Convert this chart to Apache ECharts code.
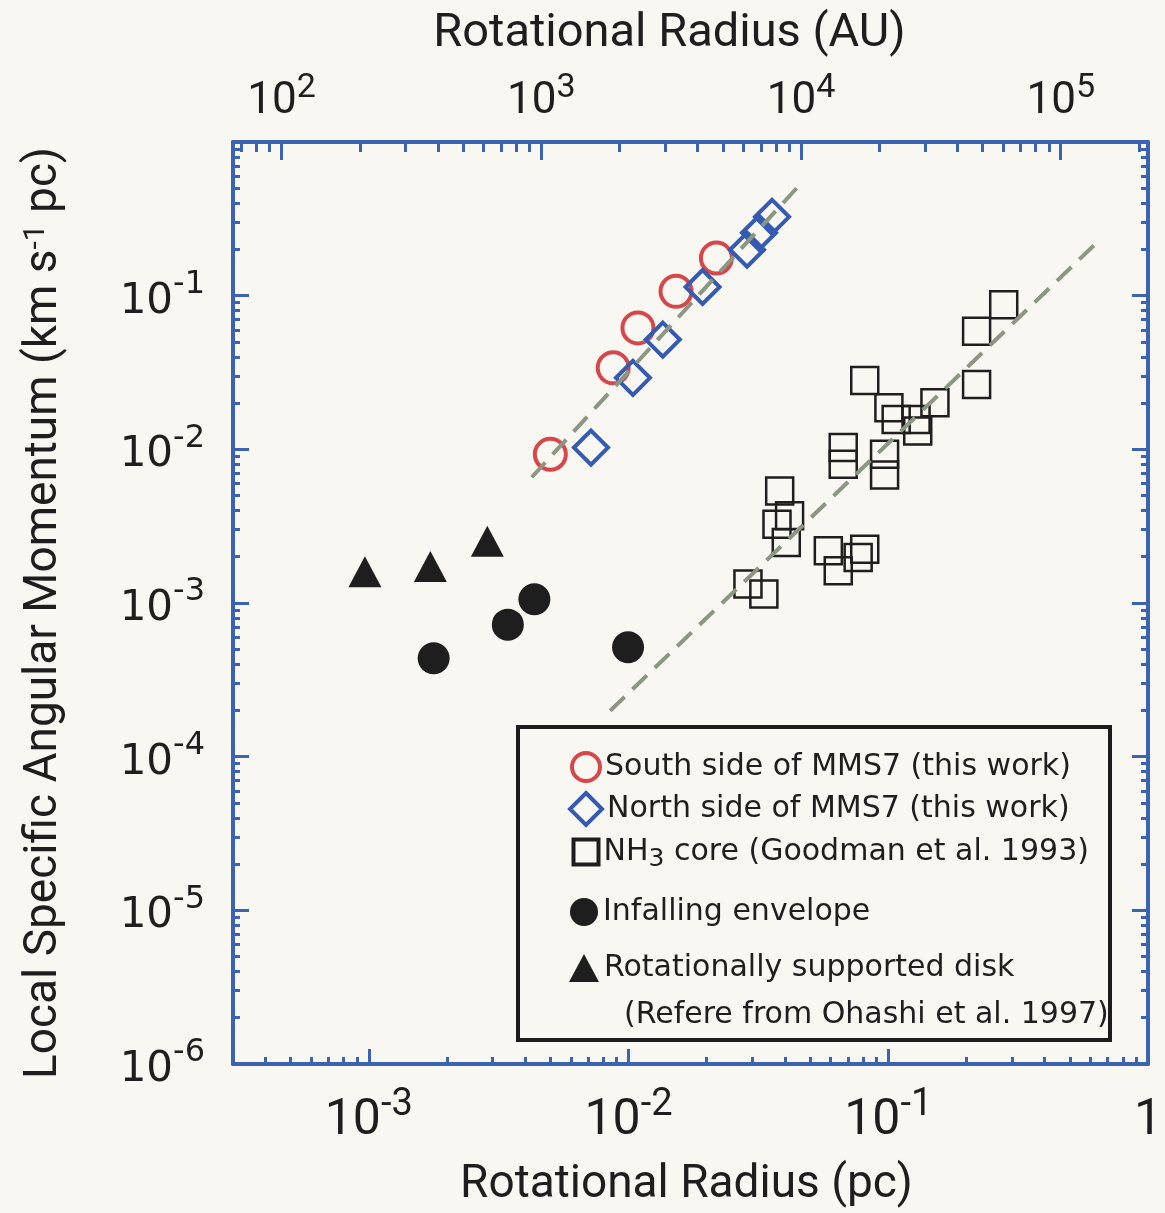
<!DOCTYPE html>
<html><head><meta charset="utf-8">
<script src="https://cdn.jsdelivr.net/npm/echarts@6/dist/echarts.min.js"></script>
<style>html,body{margin:0;padding:0;background:#f8f7f1}#c{width:1165px;height:1213px}</style>
</head><body><div id="c"></div>
<script>
// ---- data: rotational radius (pc) and local specific angular momentum (km s^-1 pc)
const southR = [0.0050, 0.00873, 0.01087, 0.01524, 0.0218];
const southJ = [0.00928, 0.0339, 0.0617, 0.1067, 0.1758];
const northR = [0.00717, 0.0104, 0.01355, 0.01928, 0.0286, 0.0318, 0.0357];
const northJ = [0.01026, 0.0292, 0.0518, 0.1139, 0.199, 0.2566, 0.326];
const nh3R = [0.2784, 0.2189, 0.2189, 0.0812, 0.1006, 0.1073, 0.128, 0.1299, 0.1513, 0.0671, 0.0671, 0.0968, 0.0968, 0.0382, 0.0417, 0.0373, 0.0405, 0.0588, 0.0642, 0.0812, 0.0766, 0.02883, 0.0332];
const nh3J = [0.0874, 0.0586, 0.02643, 0.02805, 0.01866, 0.01566, 0.01566, 0.01315, 0.0201, 0.01026, 0.0080, 0.00928, 0.00681, 0.00536, 0.00369, 0.00326, 0.00248, 0.00219, 0.00162, 0.00224, 0.00198, 0.00133, 0.001144];
const envR = [0.001777, 0.00343, 0.00434, 0.00996];
const envJ = [0.000437, 0.000723, 0.001057, 0.000515];
const diskR = [0.000966, 0.001726, 0.00286];
const diskJ = [0.0016, 0.001726, 0.00252];
const fit1R = [0.00424, 0.0445];
const fit1J = [0.00658, 0.503];
const fit2R = [0.0085, 0.652];
const fit2J = [0.000199, 0.231];

// ---- axes
const xMin = 3e-4, xMax = 1;
const yMin = 1e-6, yMax = 1;
const auMin = 65, auMax = 65 / 3e-4;
const pcTicks = [1e-3, 1e-2, 1e-1];
const pcLabels = [1e-3, 1e-2, 1e-1, 1];
const auTicks = [1e2, 1e3, 1e4, 1e5];
const auLabels = [1e2, 1e3, 1e4, 1e5];
const jTicks = [1e-5, 1e-4, 1e-3, 1e-2, 1e-1];
const jLabels = [1e-6, 1e-5, 1e-4, 1e-3, 1e-2, 1e-1];

const names = {
  south: 'South side of MMS7 (this work)',
  north: 'North side of MMS7 (this work)',
  nh3: 'NH3 core (Goodman et al. 1993)',
  env: 'Infalling envelope',
  disk: 'Rotationally supported disk'
};

const L = Math.log10;
const BG = '#f8f7f1', BLUE = '#3b62b3', RED = '#d6464b', DBLUE = '#345ab4', INK = '#1e1e1e', GREY = '#8b9683';
const NARROW = '"Liberation Sans Narrow","Roboto",sans-serif';
const DEJA = '"DejaVu Sans",sans-serif';

function minorList(lo, hi) {
  const out = [];
  for (let d = Math.floor(lo) - 1; d <= Math.ceil(hi); d++)
    for (let k = 2; k <= 9; k++) { const v = L(k) + d; if (v > lo + 1e-6 && v < hi - 1e-6) out.push(v); }
  return out;
}
function supFmt(v) {
  const n = Math.round(v);
  if (n === 0) return '{b|1}';
  return '{b|10}{s|' + n + '}';
}
function rich(font, b, s, raise) {
  return {
    b: { fontFamily: font, fontSize: b, lineHeight: b + raise, padding: [raise, 0, 0, 0], verticalAlign: 'bottom', color: INK },
    s: { fontFamily: font, fontSize: s, lineHeight: s, verticalAlign: 'top', color: INK }
  };
}
function pts(r, j) { return r.map((v, i) => [L(v), L(j[i])]); }

const tickStyle = { color: BLUE, width: 3 };
function mainAxis(pos, min, max, ticks, labels, len, labelCfg, extra) {
  return Object.assign({
    type: 'value', position: pos, min: L(min), max: L(max),
    axisLine: { show: true, onZero: false, lineStyle: { color: BLUE, width: 4 } },
    splitLine: { show: false },
    axisTick: { show: true, inside: true, length: len, lineStyle: tickStyle, customValues: ticks.map(L) },
    axisLabel: labels ? Object.assign({ customValues: labels.map(L), formatter: supFmt }, labelCfg) : { show: false }
  }, extra || {});
}
function minorAxis(pos, min, max, len) {
  return {
    type: 'value', position: pos, min: L(min), max: L(max),
    axisLine: { show: false, onZero: false },
    splitLine: { show: false },
    axisTick: { show: true, inside: true, length: len, lineStyle: tickStyle, customValues: minorList(L(min), L(max)) },
    axisLabel: { show: false }
  };
}

const chart = echarts.init(document.getElementById('c'), null, { renderer: 'canvas' });

const legendDefs = [
  { name: names.south, icon: 'circle', w: 28, h: 28, yc: 766, style: { color: 'rgba(0,0,0,0)', borderColor: RED, borderWidth: 4, opacity: 1 } },
  { name: names.north, icon: 'diamond', w: 32, h: 32, yc: 806, style: { color: 'rgba(0,0,0,0)', borderColor: DBLUE, borderWidth: 4, opacity: 1 } },
  { name: names.nh3, icon: 'rect', w: 25, h: 25, yc: 852, style: { color: 'rgba(0,0,0,0)', borderColor: INK, borderWidth: 4, opacity: 1 } },
  { name: names.env, icon: 'circle', w: 28, h: 28, yc: 912, style: { color: INK, opacity: 1 } },
  { name: names.disk, icon: 'triangle', w: 30, h: 28, yc: 968, style: { color: INK, opacity: 1 } }
];

const legends = legendDefs.map(d => {
  const isNH3 = d.name === names.nh3;
  return {
    left: 584 - d.w / 2 - 5, top: d.yc - (isNH3 ? 25 : 20),
    orient: 'horizontal', itemGap: 0, itemWidth: d.w, itemHeight: d.h,
    selectedMode: false,
    data: [{ name: d.name, icon: d.icon, itemStyle: d.style }],
    formatter: isNH3 ? () => '{a|NH}{sub|3}{a| core (Goodman et al. 1993)}' : undefined,
    textStyle: {
      fontFamily: DEJA, fontSize: 30, color: INK,
      rich: {
        a: { fontFamily: DEJA, fontSize: 30, lineHeight: 30, verticalAlign: 'middle', color: INK },
        sub: { fontFamily: DEJA, fontSize: 25, lineHeight: 40, padding: [15, 0, 0, 0], verticalAlign: 'bottom', color: INK }
      }
    }
  };
});

const option = {
  backgroundColor: BG,
  animation: false,
  grid: { left: 233, right: 12, top: 142, bottom: 147, containLabel: false },
  xAxis: [
    mainAxis('bottom', xMin, xMax, pcTicks, pcLabels, 15,
      { margin: 22, rich: rich(NARROW, 50, 38, 10) },
      { name: 'Rotational Radius (pc)', nameLocation: 'middle', nameGap: 98,
        nameTextStyle: { fontFamily: NARROW, fontSize: 46, color: INK, padding: [0, 8, 0, 0] } }),
    minorAxis('bottom', xMin, xMax, 7),
    mainAxis('top', auMin, auMax, auTicks, auLabels, 18,
      { margin: 18, rich: rich(NARROW, 44, 34, 9) },
      { name: 'Rotational Radius (AU)', nameLocation: 'middle', nameGap: 84,
        nameTextStyle: { fontFamily: NARROW, fontSize: 47, color: INK, padding: [0, 42, 0, 0] } }),
    minorAxis('top', auMin, auMax, 10)
  ],
  yAxis: [
    mainAxis('left', yMin, yMax, jTicks, jLabels, 16,
      { margin: 28, rich: rich(DEJA, 42, 32, 12) },
      { name: '{n|Local Specific Angular Momentum (km s}{s|-1}{n| pc)}', nameLocation: 'middle', nameGap: 166,
        nameTextStyle: { padding: [0, 20, 0, 0],
          rich: { n: { fontFamily: NARROW, fontSize: 46, lineHeight: 46, verticalAlign: 'bottom', color: INK },
                  s: { fontFamily: NARROW, fontSize: 30, lineHeight: 30, verticalAlign: 'top', color: INK } } } }),
    minorAxis('left', yMin, yMax, 7),
    mainAxis('right', yMin, yMax, jTicks, null, 16),
    minorAxis('right', yMin, yMax, 7)
  ],
  legend: legends,
  graphic: [
    { type: 'rect', z: 3, shape: { x: 518, y: 727, width: 592, height: 313 },
      style: { fill: BG, stroke: '#1c1c1c', lineWidth: 4 } },
    { type: 'text', z: 6, x: 624, y: 1015,
      style: { text: '(Refere from Ohashi et al. 1997)', font: '30px "DejaVu Sans"', fill: INK, verticalAlign: 'middle' } }
  ],
  series: [
    { type: 'scatter', name: names.south, xAxisIndex: 0, yAxisIndex: 0, data: pts(southR, southJ),
      symbol: 'circle', symbolSize: 31, itemStyle: { color: 'rgba(0,0,0,0)', borderColor: RED, borderWidth: 4, opacity: 1 }, z: 3 },
    { type: 'scatter', name: names.north, xAxisIndex: 0, yAxisIndex: 0, data: pts(northR, northJ),
      symbol: 'diamond', symbolSize: 34, itemStyle: { color: 'rgba(0,0,0,0)', borderColor: DBLUE, borderWidth: 4, opacity: 1 }, z: 3 },
    { type: 'scatter', name: names.nh3, xAxisIndex: 0, yAxisIndex: 0, data: pts(nh3R, nh3J),
      symbol: 'rect', symbolSize: 27, itemStyle: { color: 'rgba(0,0,0,0)', borderColor: INK, borderWidth: 2.5, opacity: 1 }, z: 3 },
    { type: 'scatter', name: names.env, xAxisIndex: 0, yAxisIndex: 0, data: pts(envR, envJ),
      symbol: 'circle', symbolSize: 32, itemStyle: { color: INK, opacity: 1 }, z: 3 },
    { type: 'scatter', name: names.disk, xAxisIndex: 0, yAxisIndex: 0, data: pts(diskR, diskJ),
      symbol: 'triangle', symbolSize: [33, 31], itemStyle: { color: INK, opacity: 1 }, z: 3 },
    { type: 'line', name: 'fit1', xAxisIndex: 0, yAxisIndex: 0, data: pts(fit1R, fit1J), symbol: 'none', silent: true,
      lineStyle: { color: GREY, width: 4, type: [20, 11] }, z: 4 },
    { type: 'line', name: 'fit2', xAxisIndex: 0, yAxisIndex: 0, data: pts(fit2R, fit2J), symbol: 'none', silent: true,
      lineStyle: { color: GREY, width: 4, type: [20, 11] }, z: 4 }
  ]
};
chart.setOption(option);
</script>
</body></html>
